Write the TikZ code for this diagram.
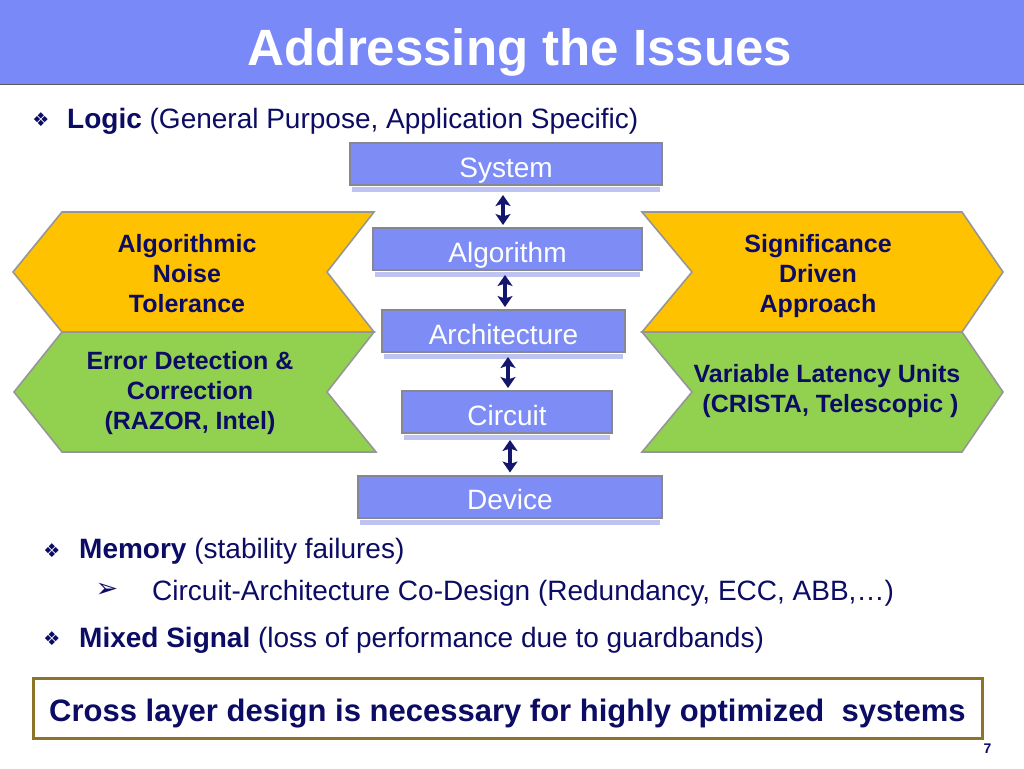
\documentclass[tikz,border=0pt]{standalone}
\usepackage{fontspec}
\setmainfont{Liberation Sans}
\newfontfamily\dingfont{DejaVu Sans}
\usetikzlibrary{arrows.meta,calc}
\definecolor{titleblue}{RGB}{121,138,248}
\definecolor{boxblue}{RGB}{125,141,245}
\definecolor{boxedge}{RGB}{135,135,145}
\definecolor{reflect}{RGB}{190,195,242}
\definecolor{navy}{RGB}{12,12,100}
\definecolor{arrownavy}{RGB}{20,22,110}
\definecolor{chevyellow}{RGB}{255,194,0}
\definecolor{chevgreen}{RGB}{146,208,80}
\definecolor{chevedge}{RGB}{150,150,150}
\definecolor{goldedge}{RGB}{140,116,40}
\begin{document}
\begin{tikzpicture}[x=1pt,y=-1pt,
  layerbox/.style={draw=boxedge, line width=2pt, fill=boxblue, text=white, inner sep=0pt,
    font=\fontsize{28}{32}\selectfont, text height=26pt, text depth=0pt, minimum height=42pt},
  chev/.style={draw=chevedge, line width=1.6pt, line join=miter},
  chevtext/.style={text=navy, font=\bfseries\fontsize{25}{30}\selectfont, align=center, inner sep=0pt},
  bullettext/.style={text=navy, font=\fontsize{28}{32}\selectfont, anchor=base west, inner sep=0pt},
  bulletmark/.style={text=navy, font=\dingfont\fontsize{19}{19}\selectfont, inner sep=0pt},
  dbl/.style={arrownavy, line width=3.6pt,
    {Stealth[length=11pt,width=15pt,inset=2.5pt]}-{Stealth[length=11pt,width=15pt,inset=2.5pt]}},
  reflection/.style={fill=reflect, draw=none}
  ]
\useasboundingbox (0,0) rectangle (1024,768);
\fill[white] (0,0) rectangle (1024,768);

% title bar
\fill[titleblue] (0,0) rectangle (1024,84);
\draw[black!65, line width=1.5pt] (0,84.5) -- (1024,84.5);
\node[text=white, font=\bfseries\fontsize{51}{55}\selectfont, anchor=base, inner sep=0pt] (title) at (520,65) {Addressing the Issues};

% Logic bullet
\node[bulletmark] (b1) at (41,120) {❖};
\node[bullettext] (logic) at (67,128) {\textbf{Logic} (General Purpose, Application Specific)};

% chevrons
\draw[chev, fill=chevyellow] (62,212) -- (374,212) -- (327,272) -- (374,332) -- (62,332) -- (13,272) -- cycle;
\draw[chev, fill=chevgreen] (62,332) -- (374,332) -- (327,392) -- (376,452) -- (62,452) -- (14,392) -- cycle;
\draw[chev, fill=chevyellow] (642,212) -- (962,212) -- (1003,272) -- (962,332) -- (642,332) -- (692,272) -- cycle;
\draw[chev, fill=chevgreen] (642,332) -- (962,332) -- (1003,392) -- (962,452) -- (642,452) -- (692,392) -- cycle;

\node[chevtext] (ant) at (187,274) {Algorithmic\\Noise\\Tolerance};
\node[chevtext] (edc) at (190,393.5) {Error Detection \&\\Correction\\(RAZOR, Intel)};
\node[chevtext] (sda) at (818,276.5) {Significance\\Driven\\Approach};
\node[chevtext] (vlu) at (827,391.5) {Variable Latency Units\\\hspace*{7pt}(CRISTA, Telescopic )};

% layer boxes
\node[layerbox, minimum width=312pt] (sys) at (506,164) {System};
\node[layerbox, minimum width=269pt] (alg) at (507.5,249) {Algorithm};
\node[layerbox, minimum width=243pt] (arch) at (503.5,331) {Architecture};
\node[layerbox, minimum width=210pt] (circ) at (507,412) {Circuit};
\node[layerbox, minimum width=304pt] (dev) at (510,496.5) {Device};

\foreach \b in {sys,alg,arch,circ,dev}{
  \fill[reflection] ($(\b.south west)+(3,1)$) rectangle ($(\b.south east)+(-3,6)$);
}

% arrows
\draw[dbl] ($(sys.south)+(-3,9)$) -- ($(alg.north)+(-4.5,-2)$);
\draw[dbl] ($(alg.south)+(-2.5,4)$) -- ($(arch.north)+(1.5,-2)$);
\draw[dbl] ($(arch.south)+(4.5,4)$) -- ($(circ.north)+(1,-2)$);
\draw[dbl] ($(circ.south)+(3,6)$) -- ($(dev.north)+(0,-2)$);

% lower bullets
\node[bulletmark] (b2) at (52,551) {❖};
\node[bullettext] (mem) at (79,558) {\textbf{Memory} (stability failures)};
\node[text=navy, font=\dingfont\fontsize{27}{27}\selectfont, inner sep=0pt] (b3) at (107,590) {➢};
\node[bullettext] (cad) at (152,600) {Circuit-Architecture Co-Design (Redundancy, ECC, ABB,…)};
\node[bulletmark] (b4) at (52,639) {❖};
\node[bullettext] (mix) at (79,647) {\textbf{Mixed Signal} (loss of performance due to guardbands)};

% conclusion box
\node[draw=goldedge, line width=3pt, fill=white, minimum width=949pt, minimum height=60pt,
  inner sep=0pt, text height=26pt, text depth=0pt, text=navy,
  font=\bfseries\fontsize{31}{35}\selectfont] (concl) at (507.5,708) {Cross layer design is necessary for highly optimized\ \ systems};

\node[text=navy, font=\bfseries\fontsize{14}{14}\selectfont, anchor=base, inner sep=0pt] (pg) at (987.5,753) {7};
\end{tikzpicture}
\end{document}
